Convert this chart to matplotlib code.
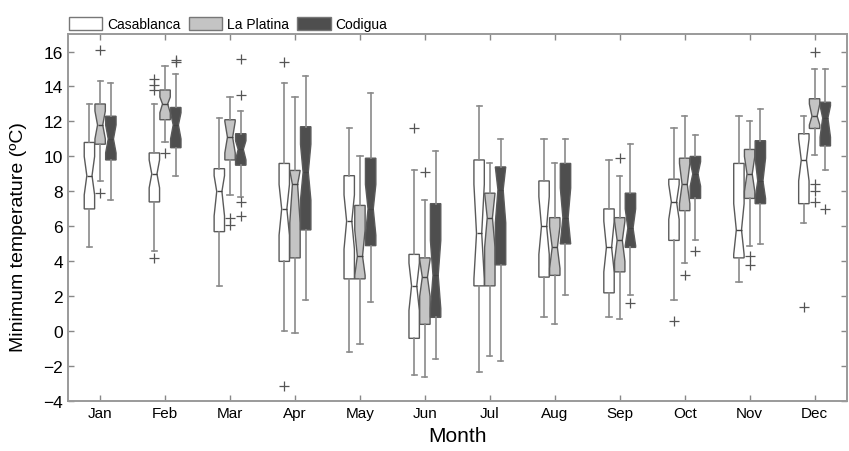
import numpy as np
import matplotlib.pyplot as plt
from matplotlib.patches import Patch

plt.rcParams['font.family'] = ['Liberation Sans', 'DejaVu Sans']

months = ['Jan', 'Feb', 'Mar', 'Apr', 'May', 'Jun', 'Jul', 'Aug', 'Sep', 'Oct', 'Nov', 'Dec']
sites = ['Casablanca', 'La Platina', 'Codigua']

# Casablanca
cas_whishi = [13.0, 13.0, 12.2, 14.2, 11.6, 9.2, 12.9, 11.0, 9.8, 11.6, 12.3, 12.3]
cas_q3 = [10.8, 10.2, 9.3, 9.6, 8.9, 4.4, 9.8, 8.6, 7.0, 8.7, 9.6, 11.3]
cas_med = [8.9, 9.0, 8.0, 7.0, 6.3, 2.6, 5.6, 6.0, 4.8, 7.4, 5.8, 9.8]
cas_q1 = [7.0, 7.4, 5.7, 4.0, 3.0, -0.4, 2.6, 3.1, 2.2, 5.2, 4.2, 7.3]
cas_whislo = [4.8, 4.6, 2.6, 0.0, -1.2, -2.5, -2.3, 0.8, 0.8, 1.8, 2.8, 6.2]
cas_cilo = [7.8, 8.2, 6.6, 5.5, 4.7, 1.2, 3.0, 4.4, 3.4, 6.4, 4.4, 8.6]
cas_cihi = [10.0, 9.8, 8.9, 8.4, 7.8, 3.9, 8.4, 7.7, 6.3, 8.4, 7.3, 11.0]
cas_fliers = [[], [4.2, 13.8, 14.1, 14.4], [], [-3.1, 15.4], [], [11.6], [], [], [], [0.6], [], [1.4]]

# La Platina
lap_whishi = [14.3, 15.2, 13.4, 13.4, 10.0, 7.5, 9.6, 9.6, 8.9, 12.3, 12.0, 15.0]
lap_q3 = [13.0, 13.8, 12.1, 9.2, 7.2, 4.2, 7.9, 6.5, 6.5, 9.9, 10.4, 13.3]
lap_med = [11.8, 13.0, 11.1, 8.4, 4.3, 3.1, 6.5, 4.8, 5.2, 8.4, 9.0, 12.3]
lap_q1 = [10.7, 12.1, 9.8, 4.2, 3.0, 0.4, 2.6, 3.2, 3.4, 6.9, 7.6, 11.6]
lap_whislo = [8.6, 10.8, 7.8, -0.1, -0.7, -2.6, -1.4, 0.4, 0.7, 3.9, 4.9, 10.1]
lap_cilo = [11.0, 12.5, 10.2, 6.2, 3.2, 2.0, 4.8, 3.6, 4.0, 7.3, 8.0, 11.8]
lap_cihi = [12.6, 13.4, 12.0, 9.2, 5.8, 4.1, 7.9, 6.0, 6.3, 9.6, 10.0, 13.0]
lap_fliers = [[7.9, 16.1], [10.2], [6.1, 6.5], [], [], [9.1], [], [], [9.9], [3.2], [3.8, 4.3], [7.4, 8.0, 8.4, 16.0]]

# Codigua
cod_whishi = [14.2, 14.7, 12.6, 14.6, 13.6, 10.3, 11.0, 11.0, 10.7, 11.2, 12.7, 15.0]
cod_q3 = [12.3, 12.8, 11.3, 11.7, 9.9, 7.3, 9.4, 9.6, 7.9, 10.0, 10.9, 13.1]
cod_med = [11.0, 11.8, 10.4, 9.1, 7.0, 3.2, 8.1, 6.5, 5.9, 9.0, 8.6, 12.2]
cod_q1 = [9.8, 10.5, 9.5, 5.8, 4.9, 0.8, 3.8, 5.0, 4.8, 7.6, 7.3, 10.6]
cod_whislo = [7.5, 8.9, 7.7, 1.8, 1.7, -1.6, -1.7, 2.1, 2.1, 5.2, 5.0, 9.2]
cod_cilo = [10.2, 11.0, 9.8, 7.5, 5.5, 1.3, 6.2, 5.0, 4.9, 8.3, 7.6, 11.1]
cod_cihi = [11.8, 12.5, 10.9, 10.7, 8.4, 5.2, 9.4, 8.2, 7.0, 9.7, 9.9, 12.9]
cod_fliers = [[], [15.4, 15.5], [6.6, 7.4, 13.5, 15.6], [], [], [], [], [], [1.6], [4.6], [], [7.0]]

data = [
    (cas_whislo, cas_q1, cas_med, cas_q3, cas_whishi, cas_cilo, cas_cihi, cas_fliers),
    (lap_whislo, lap_q1, lap_med, lap_q3, lap_whishi, lap_cilo, lap_cihi, lap_fliers),
    (cod_whislo, cod_q1, cod_med, cod_q3, cod_whishi, cod_cilo, cod_cihi, cod_fliers),
]
colors = ['white', '#c4c4c4', '#4e4e4e']
offsets = [-0.165, 0.0, 0.165]

fig = plt.figure(figsize=(8.49, 4.52), dpi=100)
ax = fig.add_axes([0.0797, 0.11, 0.918, 0.8125])

x = np.arange(1, len(months) + 1)
edge = '#5a5a5a'
for (wlo, q1, med, q3, whi, clo, chi, fl), col, off in zip(data, colors, offsets):
    stats = []
    for i in range(len(months)):
        stats.append(dict(whislo=wlo[i], q1=q1[i], med=med[i], q3=q3[i], whishi=whi[i],
                          cilo=clo[i], cihi=chi[i], fliers=fl[i]))
    ax.bxp(stats, positions=x + off, widths=0.16, shownotches=True, patch_artist=True,
           boxprops=dict(facecolor=col, edgecolor=edge, linewidth=1.0),
           medianprops=dict(color='#444444', linewidth=1.0),
           whiskerprops=dict(color='#8a8a8a', linewidth=1.2),
           capprops=dict(color='#8a8a8a', linewidth=1.2),
           flierprops=dict(marker='+', markeredgecolor='#555555', markersize=7, markeredgewidth=0.9),
           manage_ticks=False)

ax.set_xlim(0.5, 12.5)
ax.set_ylim(-4, 17)
ax.set_xticks(x)
ax.set_xticklabels(months, fontsize=11)
ax.set_yticks(np.arange(-4, 17, 2))
ax.tick_params(axis='y', labelsize=12.5)
ax.tick_params(direction='in', length=4, color='#888888', top=True, right=True, width=1)
for s in ax.spines.values():
    s.set_color('#9a9a9a')
    s.set_linewidth(1.4)

ax.set_xlabel('Month', fontsize=15, labelpad=4)
ax.set_ylabel('Minimum temperature (ºC)', fontsize=14)
ax.yaxis.set_label_coords(-0.052, 0.45)

handles = [Patch(facecolor=c, edgecolor='#777777', linewidth=1.0) for c in colors]
ax.legend(handles, sites, loc='lower left', bbox_to_anchor=(-0.002, 1.0), ncol=3, frameon=False,
          fontsize=10, handlelength=2.4, handleheight=1.0, handletextpad=0.35,
          columnspacing=0.6, borderaxespad=0.1, borderpad=0.1)

fig.savefig('out.png', dpi=100)
